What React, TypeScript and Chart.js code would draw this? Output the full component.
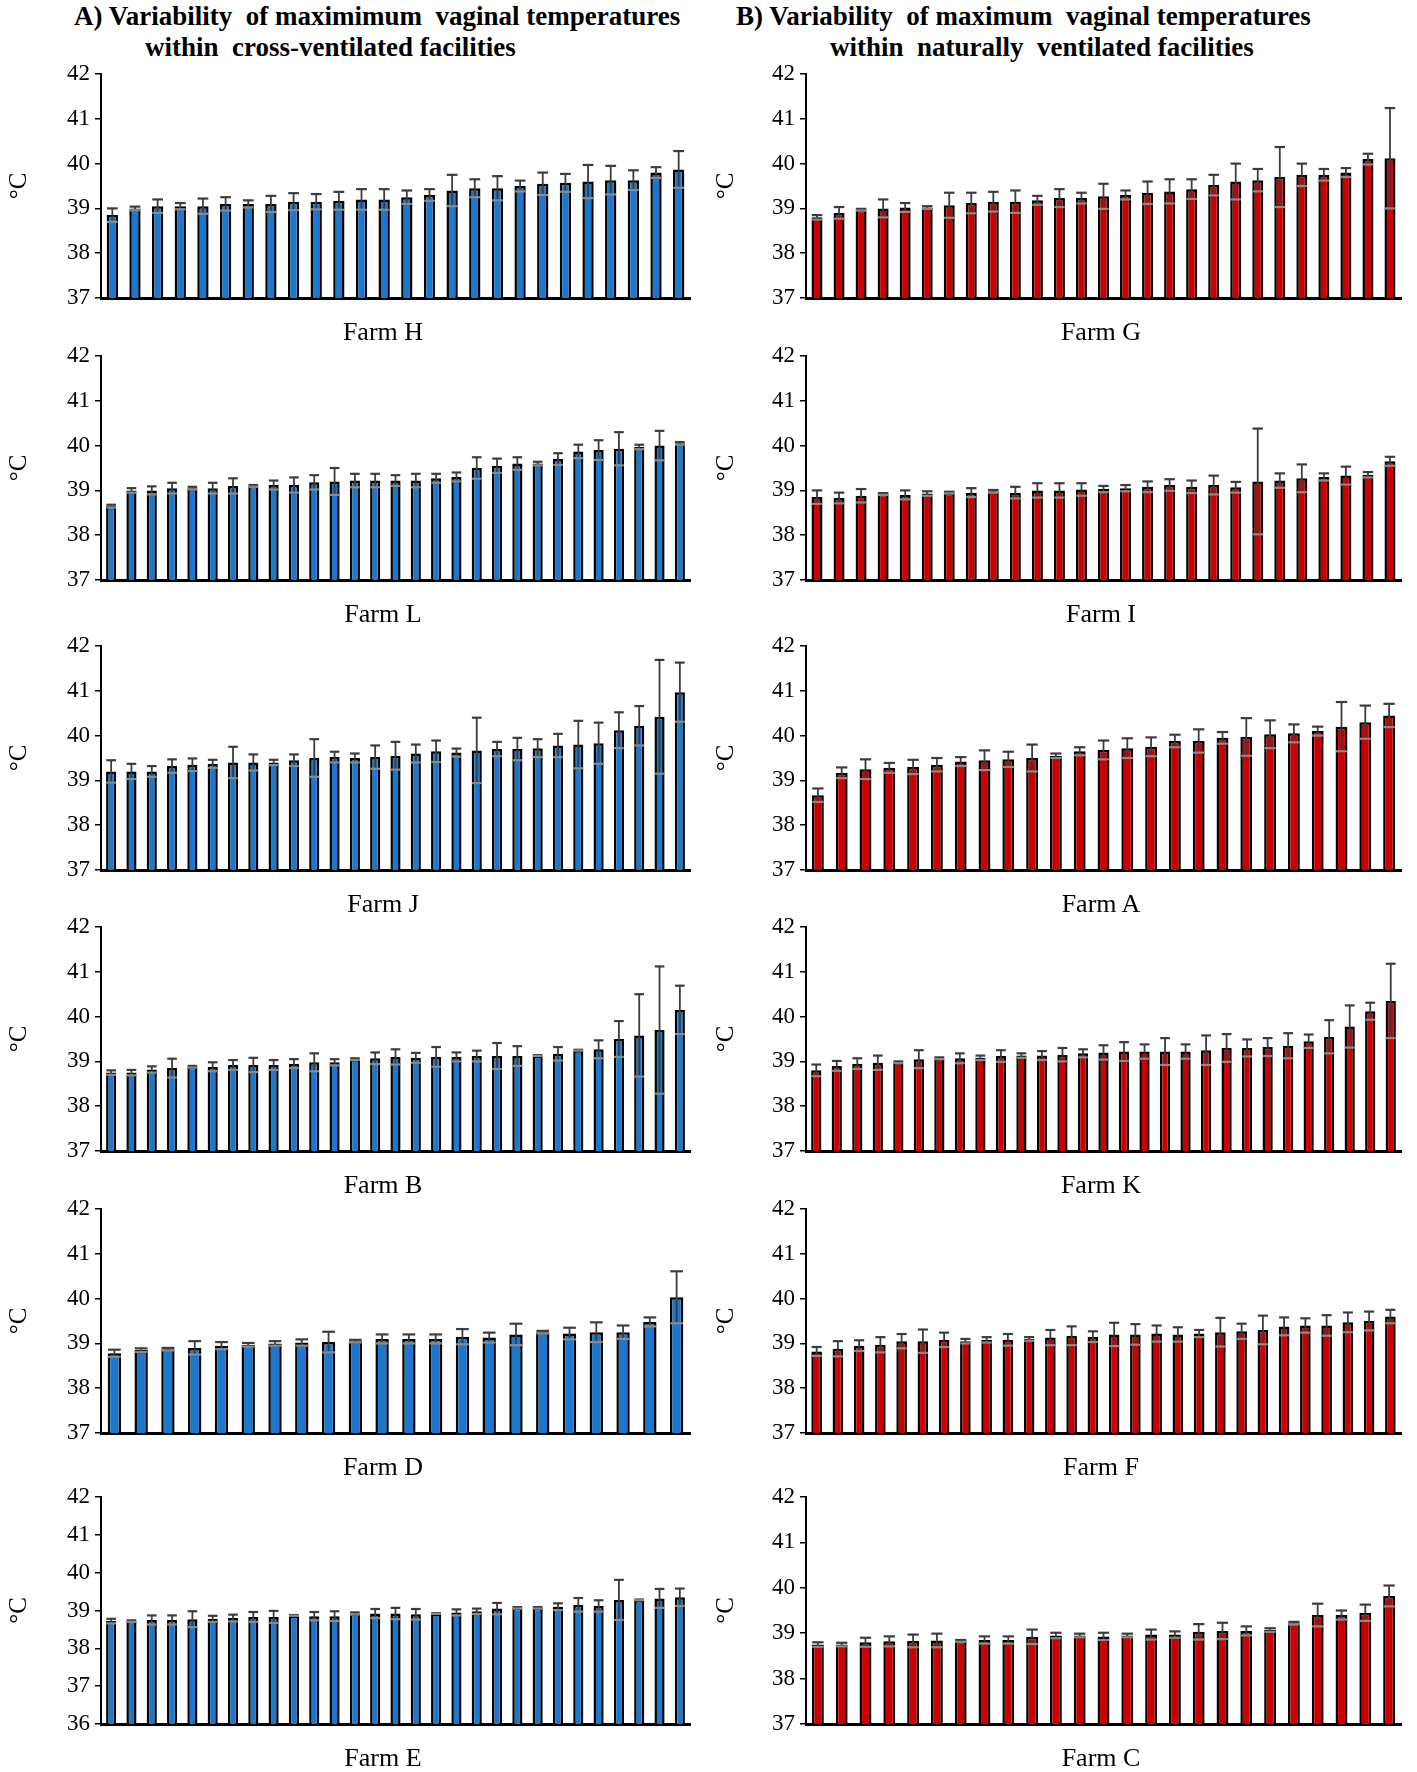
import React, { useEffect, useRef } from "react";
import { Chart, registerables } from "chart.js";

Chart.register(...registerables);

const FONT = "'Liberation Serif', 'Times New Roman', Times, serif";
const BLUE = "#1C78CC";
const RED = "#CC0000";

// ---- Data (mean maximum vaginal temperature, °C, and error) ----
const farmHMean = [38.85, 39.0, 39.05, 39.05, 39.05, 39.1, 39.1, 39.1, 39.15, 39.15, 39.17, 39.2, 39.2, 39.25, 39.3, 39.4, 39.45, 39.45, 39.5, 39.55, 39.57, 39.6, 39.63, 39.63, 39.8, 39.87];
const farmHErr = [0.15, 0.04, 0.15, 0.07, 0.17, 0.15, 0.08, 0.18, 0.19, 0.17, 0.2, 0.23, 0.23, 0.15, 0.13, 0.35, 0.2, 0.27, 0.12, 0.25, 0.2, 0.37, 0.32, 0.22, 0.12, 0.41];

const farmLMean = [38.65, 39.0, 39.0, 39.05, 39.05, 39.05, 39.1, 39.1, 39.12, 39.12, 39.18, 39.2, 39.22, 39.22, 39.22, 39.22, 39.27, 39.3, 39.5, 39.55, 39.6, 39.6, 39.7, 39.87, 39.9, 39.93, 39.97, 40.0, 40.05];
const farmLErr = [0.03, 0.05, 0.09, 0.12, 0.03, 0.12, 0.17, 0.02, 0.1, 0.17, 0.16, 0.3, 0.15, 0.15, 0.12, 0.15, 0.1, 0.1, 0.24, 0.16, 0.14, 0.04, 0.13, 0.15, 0.22, 0.37, 0.05, 0.33, 0.03];

const farmJMean = [39.2, 39.2, 39.2, 39.32, 39.35, 39.37, 39.4, 39.4, 39.4, 39.45, 39.5, 39.52, 39.5, 39.52, 39.55, 39.6, 39.65, 39.62, 39.67, 39.7, 39.7, 39.72, 39.78, 39.8, 39.83, 40.12, 40.22, 40.42, 40.97];
const farmJErr = [0.25, 0.17, 0.12, 0.15, 0.14, 0.09, 0.35, 0.18, 0.06, 0.13, 0.42, 0.12, 0.1, 0.26, 0.31, 0.2, 0.24, 0.09, 0.73, 0.16, 0.25, 0.2, 0.26, 0.53, 0.46, 0.4, 0.44, 1.27, 0.66];

const farmBMean = [38.75, 38.75, 38.82, 38.85, 38.88, 38.88, 38.92, 38.92, 38.92, 38.95, 38.98, 38.98, 39.05, 39.07, 39.1, 39.08, 39.1, 39.1, 39.12, 39.12, 39.12, 39.13, 39.17, 39.25, 39.27, 39.5, 39.58, 39.7, 40.15];
const farmBErr = [0.05, 0.06, 0.07, 0.21, 0.02, 0.1, 0.11, 0.16, 0.11, 0.1, 0.2, 0.07, 0.02, 0.13, 0.17, 0.11, 0.22, 0.1, 0.12, 0.29, 0.22, 0.01, 0.15, 0.01, 0.2, 0.4, 0.92, 1.42, 0.54];

const farmDMean = [38.78, 38.85, 38.87, 38.9, 38.95, 38.97, 39.0, 39.02, 39.03, 39.05, 39.1, 39.1, 39.1, 39.15, 39.13, 39.2, 39.25, 39.22, 39.25, 39.25, 39.48, 40.03];
const farmDErr = [0.08, 0.04, 0.03, 0.15, 0.08, 0.04, 0.05, 0.07, 0.23, 0.03, 0.1, 0.1, 0.1, 0.17, 0.11, 0.24, 0.03, 0.13, 0.22, 0.15, 0.1, 0.58];

const farmEMean = [38.72, 38.72, 38.75, 38.75, 38.77, 38.78, 38.8, 38.83, 38.83, 38.87, 38.85, 38.85, 38.92, 38.92, 38.92, 38.9, 38.92, 38.95, 38.98, 39.05, 39.07, 39.07, 39.1, 39.15, 39.12, 39.28, 39.28, 39.32, 39.35];
const farmEErr = [0.06, 0.02, 0.12, 0.12, 0.21, 0.08, 0.09, 0.13, 0.16, 0.01, 0.11, 0.13, 0.03, 0.12, 0.15, 0.14, 0.01, 0.08, 0.07, 0.15, 0.02, 0.02, 0.09, 0.18, 0.15, 0.53, 0.01, 0.25, 0.23];

const farmGMean = [38.8, 38.9, 38.97, 39.0, 39.02, 39.02, 39.07, 39.12, 39.15, 39.15, 39.18, 39.23, 39.23, 39.27, 39.3, 39.35, 39.38, 39.43, 39.52, 39.6, 39.63, 39.7, 39.75, 39.75, 39.8, 40.1, 40.12];
const farmGErr = [0.05, 0.13, 0.02, 0.2, 0.1, 0.03, 0.28, 0.23, 0.22, 0.25, 0.1, 0.2, 0.12, 0.28, 0.1, 0.25, 0.27, 0.22, 0.23, 0.4, 0.25, 0.67, 0.25, 0.13, 0.1, 0.12, 1.12];

const farmIMean = [38.85, 38.83, 38.88, 38.92, 38.9, 38.93, 38.95, 38.95, 38.98, 38.95, 39.0, 39.0, 39.02, 39.03, 39.05, 39.08, 39.12, 39.08, 39.12, 39.07, 39.2, 39.22, 39.27, 39.3, 39.33, 39.35, 39.65];
const farmIErr = [0.15, 0.12, 0.15, 0.02, 0.1, 0.05, 0.02, 0.1, 0.03, 0.13, 0.16, 0.16, 0.14, 0.07, 0.07, 0.12, 0.13, 0.14, 0.21, 0.12, 1.18, 0.16, 0.31, 0.08, 0.2, 0.06, 0.1];

const farmAMean = [38.67, 39.17, 39.25, 39.28, 39.3, 39.35, 39.42, 39.45, 39.47, 39.5, 39.55, 39.65, 39.68, 39.72, 39.75, 39.88, 39.88, 39.95, 39.97, 40.03, 40.05, 40.1, 40.2, 40.3, 40.45];
const farmAErr = [0.15, 0.12, 0.22, 0.11, 0.16, 0.15, 0.1, 0.22, 0.17, 0.3, 0.05, 0.09, 0.21, 0.22, 0.21, 0.14, 0.26, 0.13, 0.42, 0.31, 0.2, 0.1, 0.55, 0.37, 0.26];

const farmKMean = [38.8, 38.9, 38.95, 38.97, 38.98, 39.05, 39.07, 39.07, 39.08, 39.12, 39.13, 39.13, 39.15, 39.18, 39.2, 39.22, 39.22, 39.22, 39.22, 39.25, 39.3, 39.3, 39.32, 39.35, 39.45, 39.55, 39.78, 40.12, 40.35];
const farmKErr = [0.13, 0.11, 0.12, 0.16, 0.02, 0.2, 0.02, 0.11, 0.05, 0.13, 0.05, 0.1, 0.15, 0.09, 0.16, 0.21, 0.16, 0.3, 0.16, 0.33, 0.31, 0.19, 0.2, 0.28, 0.15, 0.37, 0.47, 0.19, 0.83];

const farmFMean = [38.82, 38.88, 38.95, 38.97, 39.05, 39.05, 39.08, 39.05, 39.08, 39.08, 39.1, 39.13, 39.17, 39.15, 39.2, 39.2, 39.22, 39.2, 39.22, 39.25, 39.27, 39.3, 39.38, 39.4, 39.4, 39.47, 39.5, 39.6];
const farmFErr = [0.1, 0.17, 0.12, 0.17, 0.16, 0.26, 0.16, 0.05, 0.06, 0.13, 0.04, 0.17, 0.21, 0.12, 0.26, 0.23, 0.18, 0.16, 0.08, 0.32, 0.17, 0.32, 0.2, 0.16, 0.23, 0.22, 0.21, 0.15];

const farmCMean = [38.75, 38.75, 38.8, 38.82, 38.83, 38.84, 38.83, 38.85, 38.85, 38.92, 38.95, 38.95, 38.93, 38.95, 38.97, 38.97, 39.03, 39.05, 39.05, 39.07, 39.22, 39.4, 39.4, 39.45, 39.82];
const farmCErr = [0.05, 0.04, 0.1, 0.11, 0.14, 0.15, 0.02, 0.08, 0.08, 0.16, 0.06, 0.04, 0.08, 0.04, 0.11, 0.07, 0.17, 0.18, 0.1, 0.04, 0.03, 0.25, 0.1, 0.18, 0.23];

const leftFarms = ["Farm H", "Farm L", "Farm J", "Farm B", "Farm D", "Farm E"];
const rightFarms = ["Farm G", "Farm I", "Farm A", "Farm K", "Farm F", "Farm C"];
const titleA = ["A) Variability  of maximimum  vaginal temperatures", "within  cross-ventilated facilities"];
const titleB = ["B) Variability  of maximum  vaginal temperatures", "within  naturally  ventilated facilities"];

// ---- Layout ----
const ROW_TOPS = [74, 356, 646, 927, 1209, 1497];
const PLOT_H = 224;
const PAD_TOP = 20;
const X_AXIS_H = 50;

type Panel = {
  name: string;
  mean: number[];
  err: number[];
  color: string;
  yMin: number;
  left: number;
  width: number;
  axisW: number;
  padRight: number;
  top: number;
  plotH: number;
  labelCx: number;
};

const leftData: [number[], number[]][] = [
  [farmHMean, farmHErr], [farmLMean, farmLErr], [farmJMean, farmJErr],
  [farmBMean, farmBErr], [farmDMean, farmDErr], [farmEMean, farmEErr],
];
const rightData: [number[], number[]][] = [
  [farmGMean, farmGErr], [farmIMean, farmIErr], [farmAMean, farmAErr],
  [farmKMean, farmKErr], [farmFMean, farmFErr], [farmCMean, farmCErr],
];

const panels: Panel[] = [];
leftFarms.forEach((name, i) => {
  panels.push({
    name, mean: leftData[i][0], err: leftData[i][1], color: BLUE,
    yMin: name === "Farm E" ? 36 : 37,
    left: 0, width: 700, axisW: 101, padRight: 10,
    top: ROW_TOPS[i], plotH: i === 5 ? 227 : PLOT_H, labelCx: 383,
  });
});
rightFarms.forEach((name, i) => {
  panels.push({
    name, mean: rightData[i][0], err: rightData[i][1], color: RED,
    yMin: 37,
    left: 707, width: 710, axisW: 99, padRight: 16,
    top: ROW_TOPS[i], plotH: i === 5 ? 227 : PLOT_H, labelCx: 1101,
  });
});

const errorBarPlugin = {
  id: "errorBars",
  afterDatasetsDraw(chart: any, _args: any, opts: any) {
    const errs: number[] = opts.errors || [];
    const values = chart.data.datasets[0].data as number[];
    const meta = chart.getDatasetMeta(0);
    const yScale = chart.scales.y;
    const ctx = chart.ctx as CanvasRenderingContext2D;
    ctx.save();
    meta.data.forEach((bar: any, i: number) => {
      const e = errs[i];
      if (e === undefined) return;
      const v = values[i];
      const x = bar.x;
      const hw = (bar.width / 2) * 0.95;
      const yh = yScale.getPixelForValue(v + e);
      const yl = yScale.getPixelForValue(v - e);
      ctx.lineCap = "butt";
      ctx.strokeStyle = "#3c3c3c";
      ctx.lineWidth = 1.8;
      ctx.beginPath();
      ctx.moveTo(x, yh);
      ctx.lineTo(x, yl);
      ctx.stroke();
      ctx.lineWidth = 2.2;
      ctx.beginPath();
      ctx.moveTo(x - hw, yh);
      ctx.lineTo(x + hw, yh);
      ctx.stroke();
      ctx.strokeStyle = "#8a8a8a";
      ctx.beginPath();
      ctx.moveTo(x - hw, yl);
      ctx.lineTo(x + hw, yl);
      ctx.stroke();
    });
    ctx.restore();
  },
};

function FarmChart({ p }: { p: Panel }) {
  const ref = useRef<HTMLCanvasElement>(null);
  const height = PAD_TOP + p.plotH + X_AXIS_H;
  useEffect(() => {
    if (!ref.current) return;
    const chart = new Chart(ref.current, {
      type: "bar",
      data: {
        labels: p.mean.map((_, i) => String(i + 1)),
        datasets: [
          {
            data: p.mean,
            backgroundColor: p.color,
            borderColor: "#000000",
            borderWidth: 2.5,
            borderSkipped: "bottom",
            barPercentage: 0.5,
            categoryPercentage: 1,
          },
        ],
      },
      options: {
        responsive: false,
        animation: false,
        devicePixelRatio: 1,
        layout: { padding: { top: PAD_TOP, right: p.padRight, left: 0, bottom: 0 } },
        plugins: {
          legend: { display: false },
          tooltip: { enabled: false },
          // @ts-ignore
          errorBars: { errors: p.err },
        },
        scales: {
          x: {
            grid: { display: false },
            border: { display: true, color: "#000000", width: 3 },
            ticks: { display: false },
            title: { display: false },
            afterFit: (s: any) => {
              s.height = X_AXIS_H;
            },
          },
          y: {
            min: p.yMin,
            max: 42,
            ticks: {
              stepSize: 1,
              color: "#000000",
              font: { family: FONT, size: 23 },
              padding: 5,
            },
            grid: {
              drawOnChartArea: false,
              drawTicks: true,
              tickLength: 6,
              color: "#000000",
              lineWidth: 1.5,
            },
            border: { display: true, color: "#000000", width: 2 },
            title: {
              display: true,
              text: "°C",
              color: "#000000",
              font: { family: FONT, size: 25 },
              padding: { top: 4, bottom: 0 },
            },
            afterFit: (s: any) => {
              s.width = p.axisW;
            },
          },
        },
      },
      plugins: [errorBarPlugin],
    } as any);
    return () => chart.destroy();
  }, []);
  return (
    <>
      <canvas
        ref={ref}
        width={p.width}
        height={height}
        style={{ position: "absolute", left: p.left, top: p.top - PAD_TOP, width: p.width, height }}
      />
      <div
        style={{
          position: "absolute",
          left: p.labelCx - 100,
          width: 200,
          top: p.top + p.plotH + 34 - 15,
          height: 30,
          lineHeight: "30px",
          textAlign: "center",
          fontFamily: FONT,
          fontSize: 26,
          color: "#000",
        }}
      >
        {p.name}
      </div>
    </>
  );
}

const titleLineStyle: React.CSSProperties = {
  position: "absolute",
  fontFamily: FONT,
  fontWeight: "bold",
  fontSize: 27,
  lineHeight: "31px",
  color: "#000",
  whiteSpace: "pre",
};

export default function App() {
  return (
    <div
      style={{
        position: "absolute",
        left: 0,
        top: 0,
        width: 1417,
        height: 1772,
        background: "#ffffff",
        overflow: "hidden",
      }}
    >
      <div style={{ ...titleLineStyle, left: 74, top: 1 }}>{titleA[0]}</div>
      <div style={{ ...titleLineStyle, left: 145, top: 32 }}>{titleA[1]}</div>
      <div style={{ ...titleLineStyle, left: 736, top: 1 }}>{titleB[0]}</div>
      <div style={{ ...titleLineStyle, left: 830, top: 32 }}>{titleB[1]}</div>
      {panels.map((p) => (
        <FarmChart key={p.name} p={p} />
      ))}
    </div>
  );
}
